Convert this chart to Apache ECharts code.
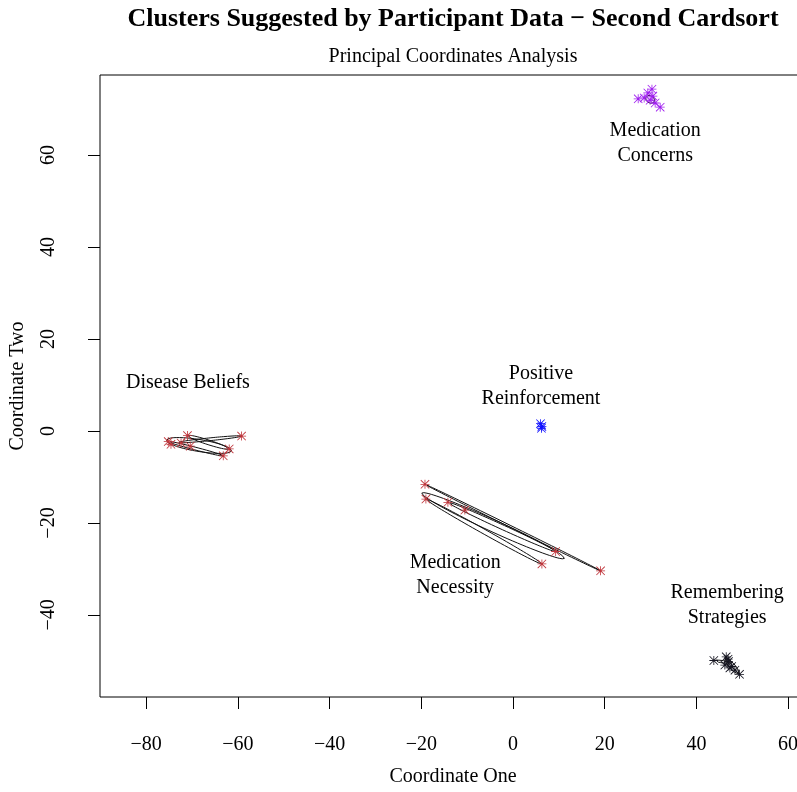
<!DOCTYPE html>
<html><head><meta charset="utf-8">
<script src="https://cdn.jsdelivr.net/npm/echarts@6/dist/echarts.min.js"></script>
<style>html,body{margin:0;padding:0;background:#fff;overflow:hidden}#c{width:816px;height:792px}</style>
</head><body><div id="c"></div>
<script>
// ---- data ----
const xTicks = [-80, -60, -40, -20, 0, 20, 40, 60];
const yTicks = [-40, -20, 0, 20, 40, 60];

const diseaseX = [-75.2, -74.6, -72.4, -71.0, -70.4, -63.2, -61.9, -59.2];
const diseaseY = [-2.3, -2.9, -2.6, -1.0, -3.3, -5.4, -3.9, -1.1];

const necessityX = [-19.2, -19.0, -14.2, -10.5, 9.3, 6.3, 19.1];
const necessityY = [-11.6, -14.8, -15.5, -17.2, -26.2, -28.9, -30.4];

const concernsX = [30.3, 29.4, 27.3, 28.6, 29.9, 31.0, 32.1, 30.5];
const concernsY = [74.3, 73.5, 72.2, 72.4, 71.9, 71.3, 70.4, 72.8];

const reinforceX = [6.0, 6.3, 6.2];
const reinforceY = [1.6, 1.0, 0.6];

const rememberX = [43.8, 46.5, 47.0, 47.7, 48.4, 49.4, 46.2, 46.9, 47.3];
const rememberY = [-49.9, -49.1, -50.1, -51.2, -52.0, -52.9, -50.9, -49.6, -51.5];

// cluster hull ellipses: [x1, y1, x2, y2, halfWidth] (ends of major axis)
const hulls = [
  [-75.6, -2.0, -61.4, -4.3, 1.3],
  [-75.2, -2.3, -63.2, -5.4, 0.3],
  [-73.0, -2.5, -59.2, -1.1, 0.3],
  [-71.0, -1.0, -62.0, -3.9, 0.5],
  [-19.9, -13.5, 11.2, -27.7, 1.3],
  [-19.0, -14.8, 6.3, -28.9, 0.5],
  [-19.2, -11.6, 19.1, -30.4, 0.2],
  [-14.2, -15.5, 9.3, -26.2, 0.5],
  [29.0, 72.6, 30.8, 71.6, 0.8],
  [43.8, -49.9, 47.5, -50.4, 0.25],
  [46.3, -49.4, 49.2, -52.7, 0.6]
];

const clusterLabels = ['Disease Beliefs', 'Positive\nReinforcement', 'Medication\nConcerns', 'Medication\nNecessity', 'Remembering\nStrategies'];
const labelX = [-70.9, 6.1, 31.0, -12.6, 46.7];
const labelY = [10.4, 9.8, 62.6, -31.3, -37.8];

// ---- drawing ----
const FONT = '"Liberation Serif", "DejaVu Serif", serif';
const star = 'path://M0,4.55L10,4.55L10,5.45L0,5.45Z M4.55,0L5.45,0L5.45,10L4.55,10Z M0.65,0L10,9.35L9.35,10L0,0.65Z M9.35,0L10,0.65L0.65,10L0,9.35Z';
const zip = (xs, ys) => xs.map((x, i) => [x, ys[i]]);
const minus = v => v < 0 ? '\u2212' + Math.abs(v) : String(v);

function hullPath(h) {
  const [x1, y1, x2, y2, b] = h;
  const cx = (x1 + x2) / 2, cy = (y1 + y2) / 2;
  const dx = x2 - x1, dy = y2 - y1;
  const len = Math.hypot(dx, dy), a = len / 2;
  const ux = dx / len, uy = dy / len, vx = -uy, vy = ux;
  const pts = [];
  for (let i = 0; i <= 90; i++) {
    const t = i / 90 * Math.PI * 2;
    const c = Math.cos(t) * a, s = Math.sin(t) * b;
    pts.push([cx + c * ux + s * vx, cy + c * uy + s * vy]);
  }
  return pts;
}

const pointSeries = (data, color) => ({
  type: 'scatter', data, symbol: star, symbolSize: 9,
  itemStyle: { color, opacity: 1 }, silent: true, z: 3
});

const series = [];
hulls.forEach(h => series.push({
  type: 'line', data: hullPath(h), showSymbol: false, symbol: 'none',
  lineStyle: { color: '#111', width: 1 }, silent: true, z: 2
}));
series.push(pointSeries(zip(diseaseX, diseaseY), '#c0363c'));
series.push(pointSeries(zip(necessityX, necessityY), '#c0363c'));
series.push(pointSeries(zip(concernsX, concernsY), '#a020f0'));
series.push(pointSeries(zip(reinforceX, reinforceY), '#1010ff'));
series.push(pointSeries(zip(rememberX, rememberY), '#151520'));
series.push({
  type: 'scatter', symbolSize: 0, silent: true, z: 4,
  itemStyle: { opacity: 1 },
  data: clusterLabels.map((n, i) => ({ name: n, value: [labelX[i], labelY[i]] })),
  label: { show: true, position: 'inside', formatter: p => p.name, opacity: 1,
    fontFamily: FONT, fontSize: 20, color: '#000', lineHeight: 25, align: 'center', verticalAlign: 'middle' }
});

const chart = echarts.init(document.getElementById('c'), null, { renderer: 'canvas' });
chart.setOption({
  animation: false,
  backgroundColor: '#fff',
  grid: { left: 100, top: 75, right: 10, bottom: 95, show: true, borderColor: '#000', borderWidth: 1, backgroundColor: 'transparent' },
  xAxis: {
    type: 'value', min: -90.08, max: 63.9,
    axisLine: { show: false, onZero: false }, splitLine: { show: false },
    axisTick: { show: true, length: 12, customValues: xTicks, lineStyle: { color: '#000' } },
    axisLabel: { customValues: xTicks, formatter: minus, margin: 38, fontFamily: FONT, fontSize: 20, color: '#000' },
    name: 'Coordinate One', nameLocation: 'middle', nameGap: 70,
    nameTextStyle: { fontFamily: FONT, fontSize: 20, color: '#000' }
  },
  yAxis: {
    type: 'value', min: -57.83, max: 77.39,
    axisLine: { show: false, onZero: false }, splitLine: { show: false },
    axisTick: { show: true, length: 12, customValues: yTicks, lineStyle: { color: '#000' } },
    axisLabel: { customValues: yTicks, formatter: minus, rotate: 90, margin: 41, fontFamily: FONT, fontSize: 20, color: '#000' },
    name: 'Coordinate Two', nameLocation: 'middle', nameGap: 72,
    nameTextStyle: { fontFamily: FONT, fontSize: 20, color: '#000' }
  },
  graphic: [
    { type: 'text', x: 453, y: 19, style: { text: 'Clusters Suggested by Participant Data \u2212 Second Cardsort', fontFamily: FONT, fontSize: 26, fontWeight: 'bold', fill: '#000', textAlign: 'center', textVerticalAlign: 'middle' } },
    { type: 'text', x: 453, y: 57, style: { text: 'Principal Coordinates Analysis', fontFamily: FONT, fontSize: 20, fill: '#000', textAlign: 'center', textVerticalAlign: 'middle' } }
  ],
  series
});
</script></body></html>
